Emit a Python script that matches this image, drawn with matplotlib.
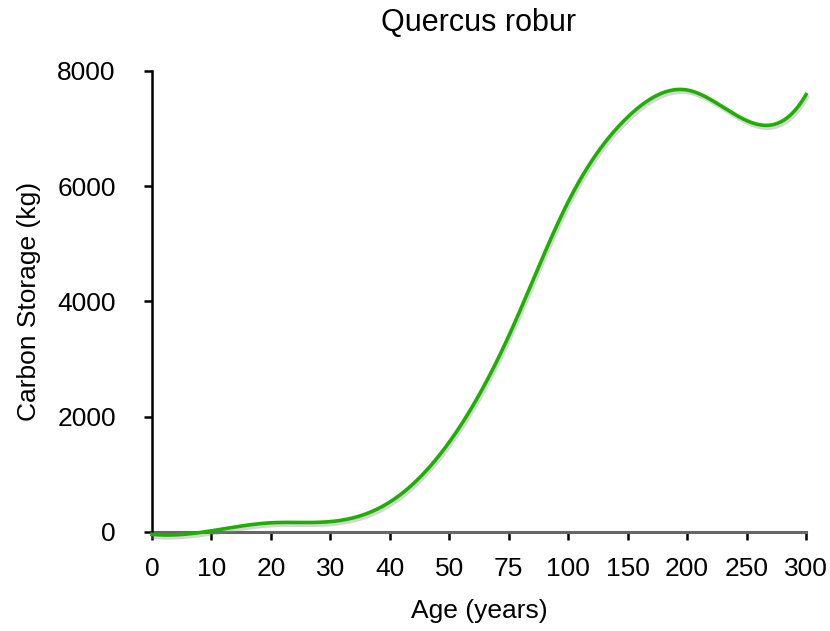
import matplotlib
matplotlib.use('Agg')
import matplotlib.pyplot as plt
import matplotlib.patheffects as pe
import numpy as np

plt.rcParams['font.family'] = ['Liberation Sans', 'DejaVu Sans']

# Data (age categories are evenly spaced)
age_labels = ['0', '10', '20', '30', '40', '50', '75', '100', '150', '200', '250', '300']
carbon_kg = [-40, 20, 160, 180, 520, 1560, 3400, 5730, 7200, 7670, 7140, 7590]
y_ticks = [0, 2000, 4000, 6000, 8000]


def spline_not_a_knot(xs, ys, steps=40):
    # cubic spline through the points (not-a-knot ends), for the smoothed line
    xs = np.asarray(xs, float)
    ys = np.asarray(ys, float)
    n = len(xs)
    h = np.diff(xs)
    A = np.zeros((n, n))
    r = np.zeros(n)
    A[0, 0:3] = [h[1], -(h[0] + h[1]), h[0]]
    A[-1, -3:] = [h[-1], -(h[-2] + h[-1]), h[-2]]
    for i in range(1, n - 1):
        A[i, i - 1] = h[i - 1]
        A[i, i] = 2 * (h[i - 1] + h[i])
        A[i, i + 1] = h[i]
        r[i] = 6 * ((ys[i + 1] - ys[i]) / h[i] - (ys[i] - ys[i - 1]) / h[i - 1])
    m = np.linalg.solve(A, r)
    out_x, out_y = [], []
    for i in range(n - 1):
        t = np.linspace(xs[i], xs[i + 1], steps, endpoint=False)
        a = (xs[i + 1] - t) / h[i]
        b = (t - xs[i]) / h[i]
        y = (a * ys[i] + b * ys[i + 1]
             + ((a ** 3 - a) * m[i] + (b ** 3 - b) * m[i + 1]) * h[i] ** 2 / 6)
        out_x.extend(t)
        out_y.extend(y)
    out_x.append(xs[-1])
    out_y.append(ys[-1])
    return np.array(out_x), np.array(out_y)


x_pos = np.arange(len(age_labels))
sx, sy = spline_not_a_knot(x_pos, carbon_kg)

fig = plt.figure(figsize=(8.3, 6.31), dpi=100)
ax = fig.add_axes([0.1831, 0.1569, 0.788, 0.7306])

ax.plot(sx, sy, color='#1db000', linewidth=2.6, clip_on=False, zorder=3,
        path_effects=[pe.SimpleLineShadow(offset=(1, -2), shadow_color='#888888', alpha=0.35),
                      pe.Normal()])

ax.set_xlim(0, len(age_labels) - 1)
ax.set_ylim(0, 8000)
ax.set_xticks(x_pos)
ax.set_xticklabels(age_labels)
ax.set_yticks(y_ticks)

ax.spines['top'].set_visible(False)
ax.spines['right'].set_visible(False)
ax.spines['left'].set_linewidth(1.8)
ax.spines['left'].set_color('black')
ax.spines['bottom'].set_linewidth(2.2)
ax.spines['bottom'].set_color('#666666')
ax.spines['bottom'].set_zorder(2)

ax.tick_params(axis='y', direction='out', length=6, width=1.8, color='black',
               labelsize=19, pad=20)
ax.tick_params(axis='x', direction='out', length=6, width=1.8, color='black',
               labelsize=19, pad=12)

ax.set_title('Quercus robur', fontsize=22, pad=29)
ax.set_xlabel('Age (years)', fontsize=19, labelpad=13)
ax.set_ylabel('Carbon Storage (kg)', fontsize=19, labelpad=12)

fig.savefig('out.png', dpi=100)
